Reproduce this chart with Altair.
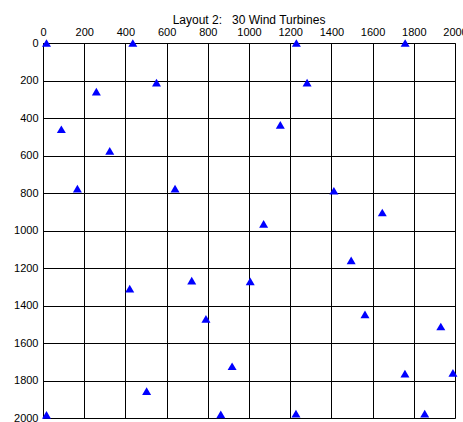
import altair as alt
import pandas as pd

# Turbine coordinates (m)
x_pos = [17, 436, 1230, 1758, 259, 551, 1282, 89, 324, 1152,
         167, 641, 1412, 1647, 1071, 1496, 421, 722, 1006, 791,
         1563, 1931, 918, 503, 1757, 1990, 17, 863, 1228, 1853]
y_pos = [0, 0, 0, 0, 259, 211, 211, 460, 575, 437,
         777, 777, 788, 904, 965, 1159, 1310, 1267, 1271, 1471,
         1447, 1512, 1724, 1857, 1763, 1759, 1983, 1981, 1977, 1977]

tick_vals = list(range(0, 2001, 200))

df = pd.DataFrame({"x": x_pos, "y": y_pos})

FONT = "Liberation Sans"

# non-breaking spaces keep the wide gap after the colon
title_text = "Layout 2:\u00a0\u00a0 30 Wind Turbines"

chart = (
    alt.Chart(df)
    .mark_point(
        shape="M0,-0.85 L1,0.85 L-1,0.85 Z",
        filled=True,
        color="#0000ff",
        opacity=1,
        size=81,
    )
    .encode(
        x=alt.X(
            "x:Q",
            scale=alt.Scale(domain=[0, 2000], nice=False, zero=False),
            axis=alt.Axis(
                orient="top",
                values=tick_vals,
                format="d",
                title=None,
                grid=True,
                gridColor="#000000",
                gridOpacity=1,
                gridWidth=1,
                tickSize=0,
                labelPadding=6,
                labelFont=FONT,
                labelFontSize=11,
                labelColor="#000000",
                labelFlush=False,
                labelOverlap=False,
                domainColor="#000000",
            ),
        ),
        y=alt.Y(
            "y:Q",
            scale=alt.Scale(domain=[0, 2000], reverse=True, nice=False, zero=False),
            axis=alt.Axis(
                values=tick_vals,
                format="d",
                title=None,
                grid=True,
                gridColor="#000000",
                gridOpacity=1,
                gridWidth=1,
                tickSize=0,
                labelPadding=5,
                labelFont=FONT,
                labelFontSize=11,
                labelColor="#000000",
                labelFlush=False,
                labelOverlap=False,
                domainColor="#000000",
            ),
        ),
    )
    .properties(
        width=412,
        height=375,
        title=alt.TitleParams(
            title_text,
            font=FONT,
            fontSize=12,
            fontWeight="normal",
            color="#000000",
            anchor="middle",
            offset=-1,
        ),
        autosize=alt.AutoSizeParams(type="none"),
        padding={"left": 43, "top": 43, "right": 8, "bottom": 4},
    )
    .configure_view(stroke="#000000", strokeWidth=1)
    .configure(background="#ffffff")
)

chart.save("out.html", embed_options={"renderer": "svg", "actions": False})
